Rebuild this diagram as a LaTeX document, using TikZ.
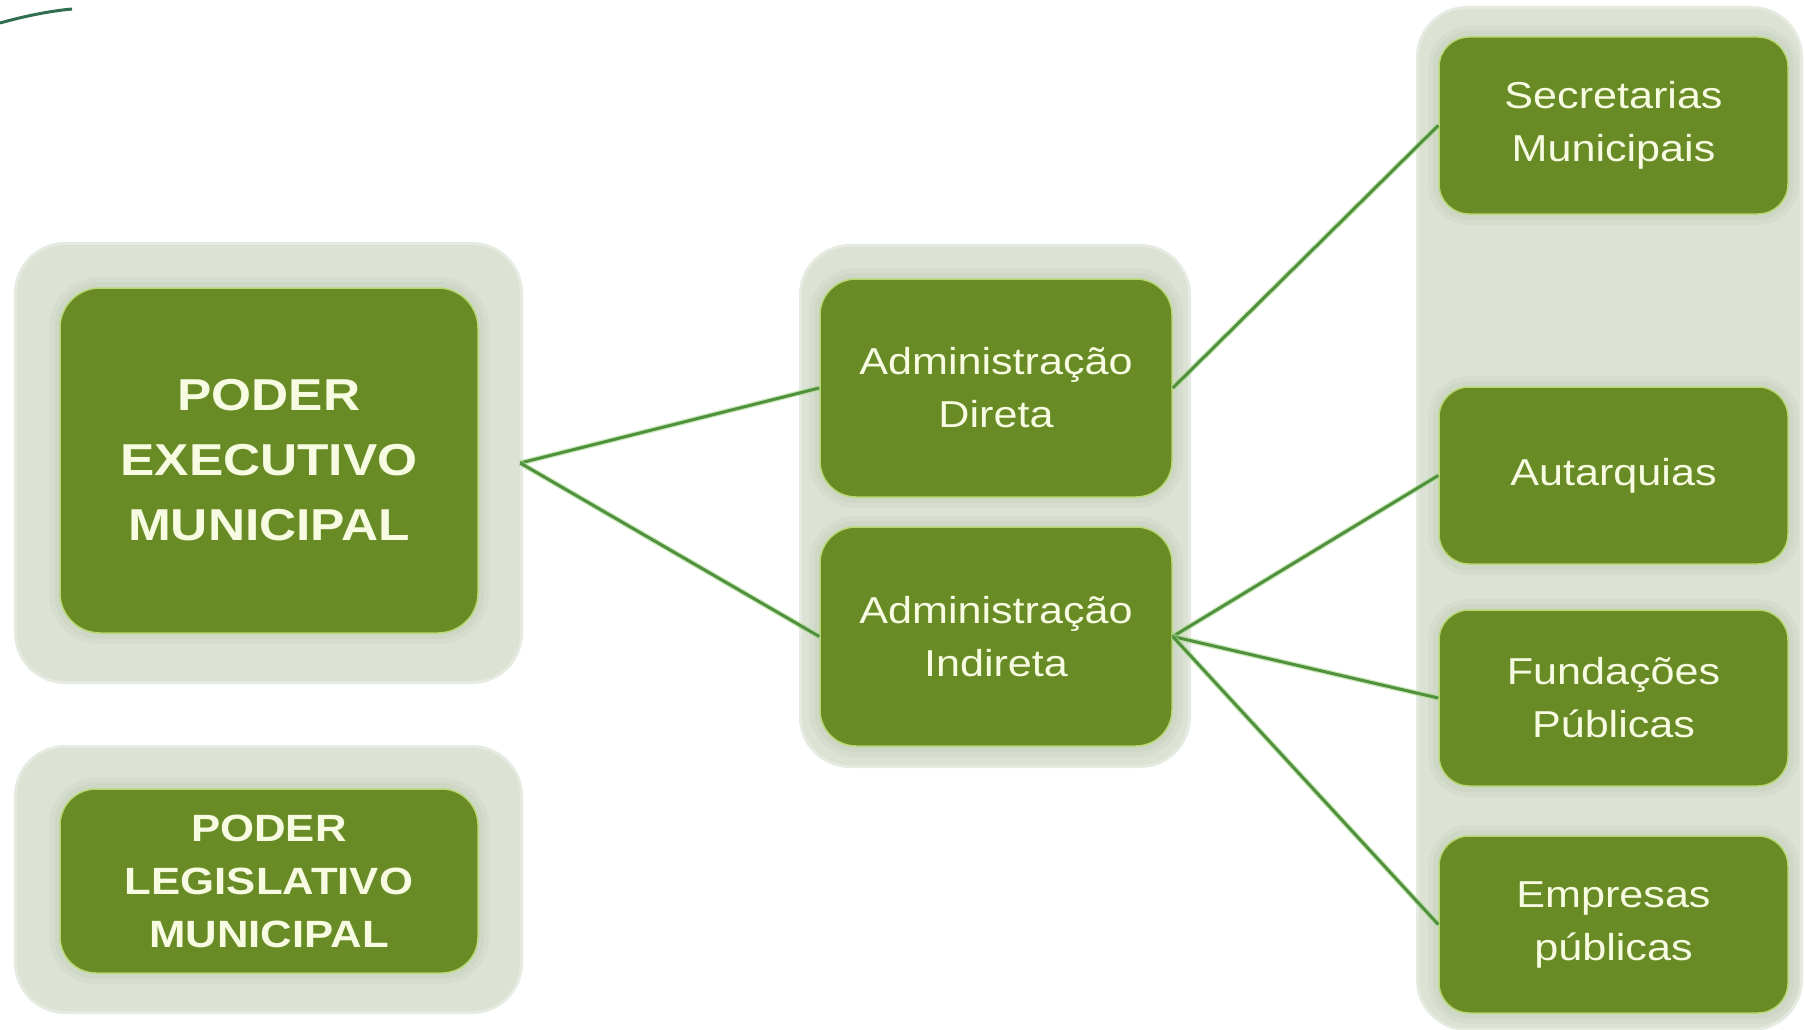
\documentclass[tikz,border=0pt]{standalone}
\usepackage{fontspec}
\setmainfont{Liberation Sans}[FakeStretch=1.15]
\definecolor{boxgreen}{HTML}{698B25}
\definecolor{boxrim}{HTML}{B9D774}
\definecolor{txtcream}{HTML}{F6FBE2}
\definecolor{panelcol}{HTML}{DCE2D4}
\definecolor{glowcol}{HTML}{A9B59A}
\definecolor{linecol}{HTML}{51903C}
\definecolor{linehalo}{HTML}{A8DC8E}
\definecolor{arccol}{HTML}{2F6E50}
\tikzset{
  panel/.style={fill=panelcol, draw=none, rounded corners=48pt, inner sep=0pt,
    preaction={draw=panelcol!70!white, line width=6pt}},
  gbox/.style={fill=boxgreen, draw=boxrim, line width=1.5pt, rounded corners=40pt,
    inner sep=0pt, text=txtcream, align=center,
    preaction={draw=glowcol, line width=22pt, opacity=0.10},
    preaction={draw=glowcol, line width=12pt, opacity=0.14}},
  bigtxt/.style={font=\bfseries\fontsize{44.7pt}{65pt}\selectfont},
  legtxt/.style={font=\bfseries\fontsize{38pt}{53pt}\selectfont},
  regtxt/.style={font=\fontsize{37.5pt}{53pt}\selectfont},
  conn/.style={draw=linecol, line width=3pt,
    preaction={draw=linehalo, line width=5.5pt, opacity=0.6}},
}
\begin{document}
\begin{tikzpicture}[x=1pt,y=-1pt]
\useasboundingbox (0,0) rectangle (1805,1030);
\fill[white] (0,0) rectangle (1805,1030);
% corner arc fragment
\draw[arccol, line width=3pt] (0,23) .. controls (25,16) and (50,11) .. (72,9);
% panels
\node[panel, minimum width=503pt, minimum height=436pt] (pexec) at (268.5,463) {};
\node[panel, minimum width=503pt, minimum height=263pt] (pleg) at (268.5,879.5) {};
\node[panel, minimum width=386pt, minimum height=518pt] (pmid) at (995,506) {};
\node[panel, minimum width=381pt, minimum height=1019pt] (pright) at (1609.5,518.5) {};
% boxes
\node[gbox, bigtxt, minimum width=418pt, minimum height=345pt] (exec) at (269,460.5)
  {PODER\\EXECUTIVO\\MUNICIPAL};
\node[gbox, legtxt, rounded corners=36pt, minimum width=418pt, minimum height=184pt] (leg) at (269,881)
  {PODER\\LEGISLATIVO\\MUNICIPAL};
\node[gbox, regtxt, rounded corners=36pt, minimum width=352pt, minimum height=218pt] (dir) at (996,388)
  {Administração\\Direta};
\node[gbox, regtxt, rounded corners=36pt, minimum width=352pt, minimum height=219pt] (ind) at (996,636.5)
  {Administração\\Indireta};
\node[gbox, regtxt, rounded corners=30pt, minimum width=349pt, minimum height=177pt] (sec) at (1613.5,125.5)
  {Secretarias\\Municipais};
\node[gbox, regtxt, rounded corners=30pt, minimum width=349pt, minimum height=177pt] (aut) at (1613.5,475.5)
  {Autarquias};
\node[gbox, regtxt, rounded corners=30pt, minimum width=349pt, minimum height=176pt] (fun) at (1613.5,698)
  {Fundações\\Públicas};
\node[gbox, regtxt, rounded corners=30pt, minimum width=349pt, minimum height=177pt] (emp) at (1613.5,924.5)
  {Empresas\\públicas};
% connectors
\draw[conn] (pexec.east) -- (dir.west);
\draw[conn] (pexec.east) -- (ind.west);
\draw[conn] (dir.east) -- (sec.west);
\draw[conn] (ind.east) -- (aut.west);
\draw[conn] (ind.east) -- (fun.west);
\draw[conn] (ind.east) -- (emp.west);
\end{tikzpicture}
\end{document}
